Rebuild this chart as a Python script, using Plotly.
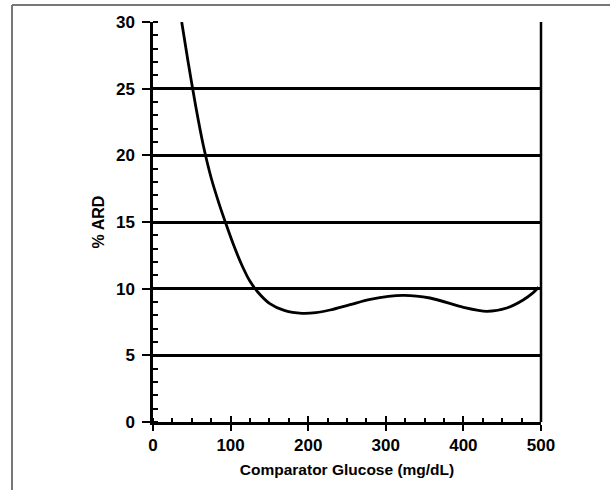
import plotly.graph_objects as go

glucose = [37, 45, 55, 65, 75, 85, 95, 105, 115, 125, 135, 150, 170, 192, 210, 228, 254, 280, 322, 357, 400, 430, 456, 477, 490, 497]
ard = [30, 27.1, 23.7, 20.7, 18.3, 16.4, 14.7, 13.1, 11.7, 10.55, 9.75, 8.9, 8.35, 8.15, 8.2, 8.4, 8.8, 9.2, 9.5, 9.3, 8.6, 8.3, 8.55, 9.15, 9.7, 10.1]

x_ticks = [0, 100, 200, 300, 400, 500]
y_ticks = [0, 5, 10, 15, 20, 25, 30]

font_family = "Liberation Sans, Arial, sans-serif"

fig = go.Figure()
fig.add_trace(go.Scatter(x=glucose, y=ard, mode="lines",
                         line=dict(color="black", width=2.8, shape="spline", smoothing=0.8),
                         showlegend=False, hoverinfo="skip"))
# invisible trace on overlay axis for cross ticks
fig.add_trace(go.Scatter(x=[0, 500], y=[0, 0], xaxis="x2", mode="lines",
                         line=dict(width=0), showlegend=False, hoverinfo="skip"))

fig.update_layout(
    width=610, height=490,
    margin=dict(l=153, r=69, t=22, b=68),
    paper_bgcolor="white", plot_bgcolor="white",
    font=dict(family=font_family, color="black"),
    xaxis=dict(range=[0, 500], tickvals=x_ticks, ticktext=[str(v) for v in x_ticks],
               ticks="outside", ticklen=6, tickwidth=2, tickcolor="black",
               showline=True, linecolor="black", linewidth=2.5, mirror=False,
               showgrid=False, zeroline=False,
               tickfont=dict(size=17, family=font_family, weight="bold"),
               minor=dict(dtick=25, ticks="inside", ticklen=4, tickwidth=2, tickcolor="black", showgrid=False),
               title=dict(text="<b>Comparator Glucose (mg/dL)</b>", font=dict(size=15.5), standoff=10)),
    xaxis2=dict(range=[0, 500], overlaying="x", side="bottom", tickvals=x_ticks,
                ticks="inside", ticklen=6, tickwidth=2, tickcolor="black",
                showticklabels=False, showgrid=False, zeroline=False, showline=False),
    yaxis=dict(range=[0, 30], tickvals=y_ticks, ticktext=[str(v) for v in y_ticks],
               ticks="outside", ticklen=8, tickwidth=2, tickcolor="black",
               showline=True, linecolor="black", linewidth=2.5,
               showgrid=True, gridcolor="black", gridwidth=2.5, zeroline=False,
               tickfont=dict(size=17, family=font_family, weight="bold"),
               ticklabelstandoff=4,
               minor=dict(dtick=1, ticks="inside", ticklen=5, tickwidth=2, tickcolor="black", showgrid=False),
               title=dict(text="<b>% ARD</b>", font=dict(size=16), standoff=8)),
    shapes=[
        dict(type="line", xref="paper", yref="paper", x0=1, x1=1, y0=0, y1=1,
             line=dict(color="black", width=2.5)),
        dict(type="line", xref="paper", yref="paper", x0=-0.3634, x1=1.18, y0=1.0425, y1=1.0425,
             line=dict(color="#777777", width=2)),
        dict(type="line", xref="paper", yref="paper", x0=-0.3634, x1=-0.3634, y0=-0.18, y1=1.0425,
             line=dict(color="#777777", width=2)),
    ],
)

fig.write_html("out.html")
